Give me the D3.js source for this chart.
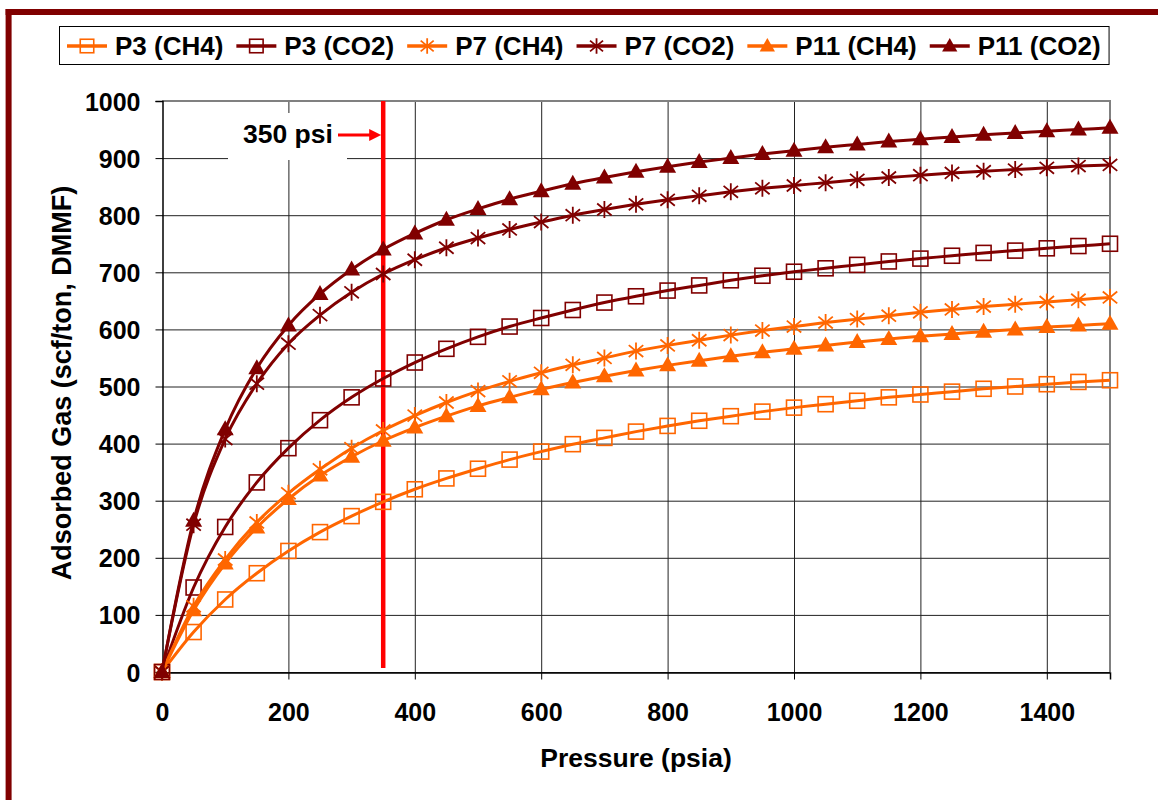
<!DOCTYPE html>
<html>
<head>
<meta charset="utf-8">
<script src="https://cdn.jsdelivr.net/npm/d3@7"></script>
<style>
  body { margin: 0; background: #fff; }
  svg { display: block; font-family: "Liberation Sans", Arial, sans-serif; }
</style>
</head>
<body>
<svg id="chart" width="1158" height="800"></svg>
<script>
// pressure steps (psia)
const pressure = [0, 50, 100, 150, 200, 250, 300, 350, 400, 450, 500, 550, 600, 650, 700, 750,
  800, 850, 900, 950, 1000, 1050, 1100, 1150, 1200, 1250, 1300, 1350, 1400, 1450, 1500];

// adsorbed gas (scf/ton, DMMF)
const p3CH4 = [0, 70, 127, 173, 212, 245, 273, 298, 320, 339, 356, 372, 386, 399, 410, 421,
  431, 440, 448, 456, 463, 469, 475, 481, 486, 491, 496, 500, 504, 508, 511];
const p3CO2 = [0, 148, 254, 332, 392, 441, 481, 514, 542, 566, 587, 605, 620, 634, 647, 658,
  668, 677, 686, 694, 701, 707, 713, 719, 724, 729, 734, 738, 742, 746, 750];
const p7CH4 = [0, 115, 197, 262, 313, 355, 392, 423, 449, 472, 492, 509, 524, 538, 550, 562,
  572, 581, 590, 598, 605, 612, 618, 624, 630, 635, 640, 644, 648, 652, 656];
const p7CO2 = [0, 258, 408, 505, 575, 625, 665, 697, 722, 743, 760, 775, 788, 800, 810, 819,
  827, 834, 841, 847, 852, 857, 862, 866, 870, 874, 877, 880, 883, 886, 888];
const p11CH4 = [0, 108, 190, 253, 303, 344, 377, 405, 428, 448, 466, 481, 495, 507, 518, 528,
  537, 545, 553, 560, 566, 572, 578, 583, 588, 592, 596, 600, 604, 607, 610];
const p11CO2 = [0, 265, 425, 532, 607, 662, 705, 740, 768, 792, 811, 828, 842, 855, 866, 876,
  885, 893, 900, 907, 913, 919, 924, 929, 933, 937, 941, 944, 947, 950, 953];

const seriesNames = ["P3 (CH4)", "P3 (CO2)", "P7 (CH4)", "P7 (CO2)", "P11 (CH4)", "P11 (CO2)"];
const xTicks = [0, 200, 400, 600, 800, 1000, 1200, 1400];
const yTicks = [0, 100, 200, 300, 400, 500, 600, 700, 800, 900, 1000];
const markerPressure = 350;

const ORANGE = "#ff6600", DARKRED = "#800000";
const series = [
  { name: seriesNames[0], values: p3CH4, color: ORANGE, marker: "square" },
  { name: seriesNames[1], values: p3CO2, color: DARKRED, marker: "square" },
  { name: seriesNames[2], values: p7CH4, color: ORANGE, marker: "star" },
  { name: seriesNames[3], values: p7CO2, color: DARKRED, marker: "star" },
  { name: seriesNames[4], values: p11CH4, color: ORANGE, marker: "triangle" },
  { name: seriesNames[5], values: p11CO2, color: DARKRED, marker: "triangle" }
];

const svg = d3.select("#chart");

// outer frame (only left and top edges show)
svg.append("line").attr("x1", 8.6).attr("x2", 8.6).attr("y1", 9).attr("y2", 800)
  .attr("stroke", DARKRED).attr("stroke-width", 6);
svg.append("line").attr("x1", 5.6).attr("x2", 1158).attr("y1", 12).attr("y2", 12)
  .attr("stroke", DARKRED).attr("stroke-width", 6);

// plot area
const margin = { left: 162, top: 101, right: 1110, bottom: 672 };
const x = d3.scaleLinear().domain([0, 1500]).range([margin.left, margin.right]);
const y = d3.scaleLinear().domain([0, 1000]).range([margin.bottom, margin.top]);

const grid = svg.append("g");
grid.selectAll("line.h").data(yTicks).join("line")
  .attr("x1", margin.left).attr("x2", margin.right)
  .attr("y1", d => y(d) + 0.5).attr("y2", d => y(d) + 0.5)
  .attr("stroke", "#222").attr("stroke-width", 1);
grid.selectAll("line.v").data(xTicks.filter(d => d > 0)).join("line")
  .attr("x1", d => x(d) + 0.5).attr("x2", d => x(d) + 0.5)
  .attr("y1", margin.top).attr("y2", margin.bottom)
  .attr("stroke", "#222").attr("stroke-width", 1);

// plot border top/right gray
svg.append("path")
  .attr("d", `M${margin.left},${margin.top} H${margin.right} V${margin.bottom}`)
  .attr("fill", "none").attr("stroke", "#808080").attr("stroke-width", 2);

// axes
const xAxis = svg.append("g").attr("transform", `translate(0,${margin.bottom + 0.5})`)
  .call(d3.axisBottom(x).tickValues(xTicks).tickFormat(d3.format("d")).tickSize(7).tickPadding(24));
const yAxis = svg.append("g").attr("transform", `translate(${margin.left + 0.5},0)`)
  .call(d3.axisLeft(y).tickValues(yTicks).tickFormat(d3.format("d")).tickSize(7).tickPadding(15));
[xAxis, yAxis].forEach(a => {
  a.select(".domain").attr("stroke", "#000").attr("stroke-width", 1.5);
  a.selectAll(".tick line").attr("stroke", "#000");
  a.selectAll(".tick text").attr("font-size", 25).attr("font-weight", "bold")
    .attr("fill", "#000").attr("font-family", "Liberation Sans, Arial, sans-serif");
});
yAxis.selectAll(".tick text").attr("dy", "0.36em");

// axis titles
svg.append("text").attr("x", 636).attr("y", 767).attr("text-anchor", "middle")
  .attr("font-size", 26.5).attr("font-weight", "bold").text("Pressure (psia)");
svg.append("text").attr("transform", `translate(71,383) rotate(-90)`)
  .attr("text-anchor", "middle").attr("font-size", 27).attr("font-weight", "bold")
  .text("Adsorbed Gas (scf/ton, DMMF)");

// 350 psi annotation
svg.append("rect").attr("x", 228).attr("y", 113).attr("width", 119).attr("height", 47).attr("fill", "#fff");
svg.append("text").attr("x", 243).attr("y", 143).attr("font-size", 26.5).attr("font-weight", "bold")
  .text("350 psi");
svg.append("line").attr("x1", 338).attr("x2", 372).attr("y1", 135).attr("y2", 135)
  .attr("stroke", "#ff0000").attr("stroke-width", 3);
svg.append("path").attr("d", `M${x(markerPressure) - 2},135 l-12,-6 v12 z`).attr("fill", "#ff0000");
svg.append("line").attr("x1", x(markerPressure)).attr("x2", x(markerPressure))
  .attr("y1", margin.top).attr("y2", y(7))
  .attr("stroke", "#ff0000").attr("stroke-width", 4.5);

// markers
function drawMarker(g, type, color, cx, cy, k = 1) {
  if (type === "square") {
    g.append("rect").attr("x", cx - 7.5 * k).attr("y", cy - 7.5 * k).attr("width", 15 * k).attr("height", 15 * k)
      .attr("fill", "none").attr("stroke", color).attr("stroke-width", 1.6);
  } else if (type === "star") {
    // Excel-style star: an X with a vertical bar
    const r = 8.5 * k;
    const d = `M${cx - r * 0.85},${cy - r * 0.7} L${cx + r * 0.85},${cy + r * 0.7}` +
      ` M${cx - r * 0.85},${cy + r * 0.7} L${cx + r * 0.85},${cy - r * 0.7} M${cx},${cy - r} V${cy + r}`;
    g.append("path").attr("d", d).attr("stroke", color).attr("stroke-width", 1.8).attr("fill", "none");
  } else {
    g.append("path").attr("d", `M${cx},${cy - 9 * k} L${cx + 8.5 * k},${cy + 6 * k} L${cx - 8.5 * k},${cy + 6 * k} Z`)
      .attr("fill", color);
  }
}

const line = d3.line().x(d => x(d[0])).y(d => y(d[1])).curve(d3.curveMonotoneX);
const plot = svg.append("g");
series.forEach(s => {
  const pts = pressure.map((p, i) => [p, s.values[i]]);
  plot.append("path").attr("d", line(pts)).attr("fill", "none")
    .attr("stroke", s.color).attr("stroke-width", 3);
  const mg = plot.append("g");
  pts.forEach(p => drawMarker(mg, s.marker, s.color, x(p[0]), y(p[1])));
});

// legend
const legend = svg.append("g");
const legendBox = legend.append("rect").attr("x", 59.5).attr("y", 26.5).attr("height", 38)
  .attr("fill", "#fff").attr("stroke", "#000").attr("stroke-width", 1);
let lx = 67;
series.forEach(s => {
  legend.append("line").attr("x1", lx).attr("x2", lx + 40).attr("y1", 46).attr("y2", 46)
    .attr("stroke", s.color).attr("stroke-width", 3.5);
  drawMarker(legend, s.marker, s.color, lx + 20, 46, 0.9);
  const t = legend.append("text").attr("x", lx + 48).attr("y", 55)
    .attr("font-size", 26).attr("font-weight", "bold").text(s.name);
  lx += 48 + t.node().getComputedTextLength() + 13;
});
legendBox.attr("width", lx - 59 - 5);
</script>
</body>
</html>
